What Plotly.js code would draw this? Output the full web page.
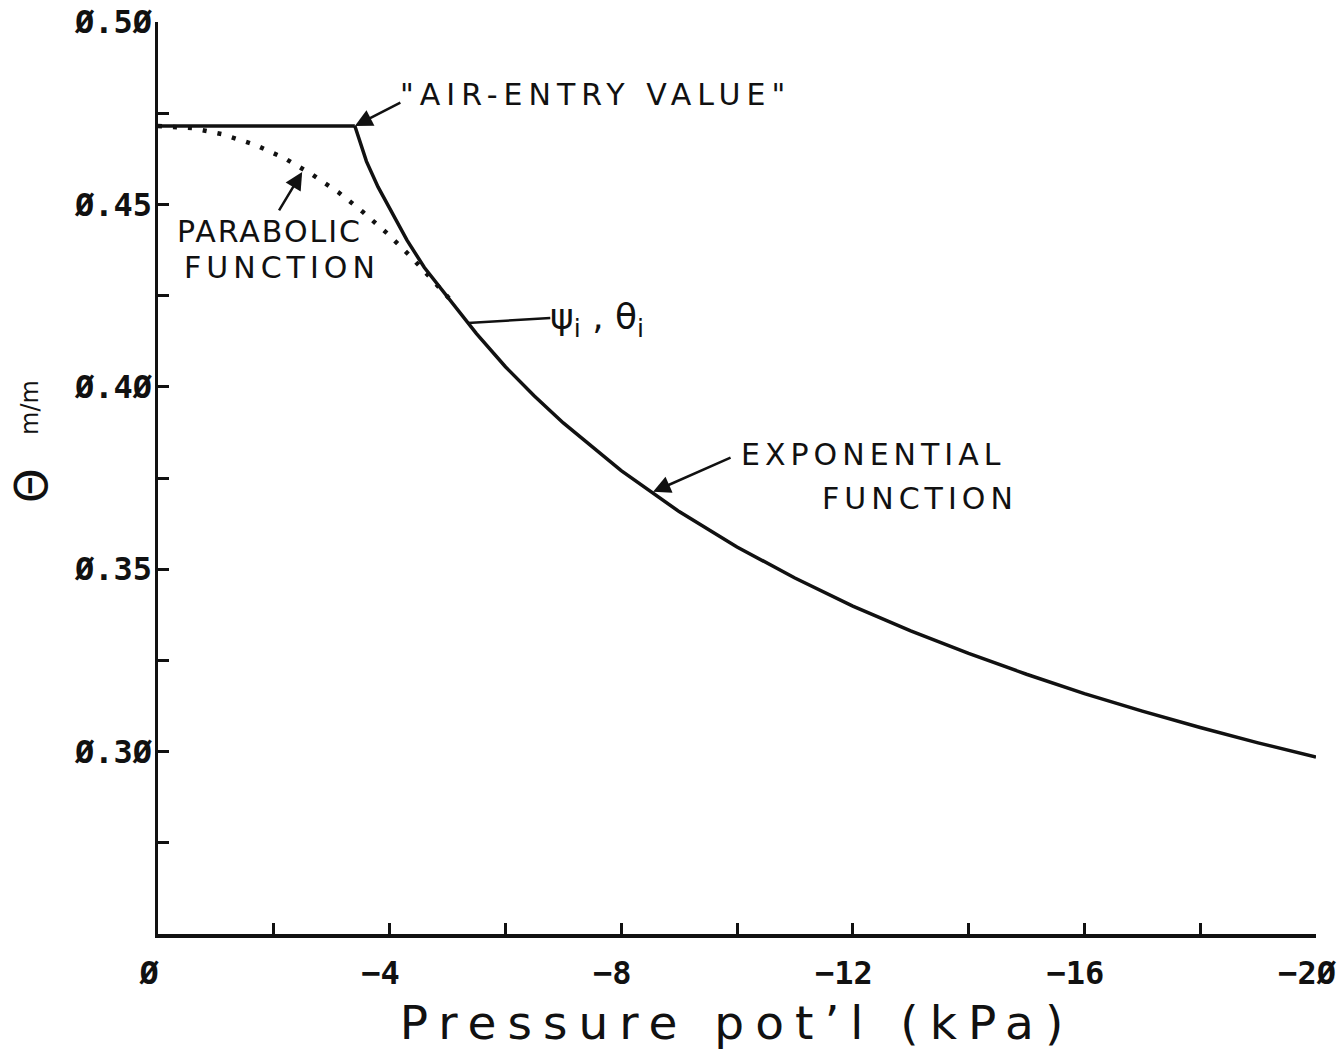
<!DOCTYPE html>
<html>
<head>
<meta charset="utf-8">
<script src="https://cdn.plot.ly/plotly-3.0.1.min.js"></script>
<style>html,body{margin:0;padding:0;background:#fff;}#chart{width:1343px;height:1064px;}</style>
</head>
<body>
<div id="chart"></div>
<script>
// Pressure potential (kPa) and volumetric water content (m/m)
const pressureFlat = [0, -3.4];
const thetaFlat = [0.4715, 0.4715];

const pressureExp = [-3.4, -3.6, -3.8, -4.0, -4.3, -4.6, -5.0, -5.5, -6.0, -6.5, -7.0, -8.0, -9.0, -10.0, -11.0, -12.0, -13.0, -14.0, -15.0, -16.0, -17.0, -18.0, -19.0, -20.0];
const thetaExp = [0.4715, 0.4618, 0.4548, 0.4488, 0.4402, 0.4327, 0.4245, 0.4146, 0.4055, 0.3975, 0.3901, 0.3770, 0.3658, 0.3561, 0.3476, 0.3399, 0.3331, 0.3269, 0.3212, 0.3159, 0.3111, 0.3066, 0.3024, 0.2985];

const pressurePara = [0, -0.6, -1.12, -1.68, -2.18, -2.66, -3.11, -3.54, -3.97, -4.37, -4.75, -5.04];
const thetaPara = [0.4715, 0.4709, 0.4692, 0.4663, 0.4627, 0.4582, 0.4534, 0.4479, 0.4419, 0.4356, 0.4291, 0.4240];

const xTickVals = [0, -2, -4, -6, -8, -10, -12, -14, -16, -18, -20];
const xTickText = ['Ø', '', '−4', '', '−8', '', '−12', '', '−16', '', '−2Ø'];
const yTickVals = [0.275, 0.30, 0.325, 0.35, 0.375, 0.40, 0.425, 0.45, 0.475, 0.50];
const yTickText = ['', 'Ø.3Ø', '', 'Ø.35', '', 'Ø.4Ø', '', 'Ø.45', '', 'Ø.5Ø'];
const yTitleSymbol = 'Θ';
const yTitleUnit = 'm/m';
const xTitle = 'Pressure pot’l (kPa)';

// annotation anchor points
const airEntryPoint = [-3.4, 0.4715];
const parabolicPoint = [-2.49, 0.4589];
const inflectionPoint = [-5.35, 0.4175];
const exponentialPoint = [-8.55, 0.3712];

const black = '#111';
const labelFont = {family: 'DejaVu Sans, sans-serif', size: 30, color: black};
const spaced = (t, s) => "<span style='letter-spacing:" + s + "px'>" + t + "</span>";

const traces = [
  {x: pressureFlat, y: thetaFlat, mode: 'lines', line: {color: black, width: 3.5}, hoverinfo: 'skip'},
  {x: pressureExp, y: thetaExp, mode: 'lines', line: {color: black, width: 3.5}, hoverinfo: 'skip'},
  {x: pressurePara, y: thetaPara, mode: 'lines', line: {color: black, width: 4.5, dash: '4px,11px'}, hoverinfo: 'skip'}
];

const arrowBase = {xref: 'x', yref: 'y', axref: 'pixel', ayref: 'pixel', text: '', showarrow: true,
  arrowcolor: black, arrowwidth: 2.5, arrowsize: 1.4, standoff: 0, startstandoff: 0};

const annotations = [
  Object.assign({}, arrowBase, {x: airEntryPoint[0], y: airEntryPoint[1], ax: 47, ay: -24, arrowhead: 2}),
  Object.assign({}, arrowBase, {x: parabolicPoint[0], y: parabolicPoint[1], ax: -24, ay: 40, arrowhead: 2}),
  Object.assign({}, arrowBase, {x: inflectionPoint[0], y: inflectionPoint[1], ax: 84, ay: -5, arrowhead: 0}),
  Object.assign({}, arrowBase, {x: exponentialPoint[0], y: exponentialPoint[1], ax: 79, ay: -35, arrowhead: 2}),
  {xref: 'x', yref: 'y', x: -4.15, y: 0.4800, xanchor: 'left', yanchor: 'middle', showarrow: false,
   text: spaced('"AIR-ENTRY VALUE"', 6), font: labelFont},
  {xref: 'x', yref: 'y', x: -1.93, y: 0.4425, xanchor: 'center', yanchor: 'middle', showarrow: false,
   text: spaced('PARABOLIC', 2), font: labelFont},
  {xref: 'x', yref: 'y', x: -2.14, y: 0.4326, xanchor: 'center', yanchor: 'middle', showarrow: false,
   text: spaced('FUNCTION', 5), font: labelFont},
  {xref: 'x', yref: 'y', x: -7.58, y: 0.4184, xanchor: 'center', yanchor: 'middle', showarrow: false,
   text: 'ψ<sub>i</sub> , θ<sub>i</sub>', font: {family: 'DejaVu Sans, sans-serif', size: 36, color: black}},
  {xref: 'x', yref: 'y', x: -12.35, y: 0.3814, xanchor: 'center', yanchor: 'middle', showarrow: false,
   text: spaced('EXPONENTIAL', 5), font: labelFont},
  {xref: 'x', yref: 'y', x: -13.16, y: 0.3693, xanchor: 'center', yanchor: 'middle', showarrow: false,
   text: spaced('FUNCTION', 5), font: labelFont},
  // y-axis title (Θ with unit m/m), rotated like the original
  {xref: 'paper', yref: 'paper', x: -0.1097, y: 0.4923, xanchor: 'center', yanchor: 'middle', showarrow: false,
   textangle: -90, text: yTitleSymbol, font: {family: 'DejaVu Sans, sans-serif', size: 44, color: black}},
  {xref: 'paper', yref: 'paper', x: -0.1105, y: 0.5768, xanchor: 'center', yanchor: 'middle', showarrow: false,
   textangle: -90, text: yTitleUnit, font: {family: 'DejaVu Sans, sans-serif', size: 24, color: black}}
];

const tickFont = {family: 'DejaVu Sans Mono, monospace', size: 32, color: black, weight: 'bold'};

const layout = {
  width: 1343, height: 1064,
  margin: {l: 158, r: 27, t: 22, b: 130},
  paper_bgcolor: '#fff', plot_bgcolor: '#fff',
  showlegend: false,
  xaxis: {
    range: [0, -20], showgrid: false, zeroline: false,
    showline: true, linecolor: black, linewidth: 3.5,
    ticks: 'inside', ticklen: 11, tickwidth: 3, tickcolor: black,
    tickmode: 'array', tickvals: xTickVals, ticktext: xTickText,
    tickfont: tickFont, ticklabelstandoff: 8, ticklabelshift: 9, ticklabeloverflow: 'allow',
    title: {text: spaced(xTitle, 11), font: {family: 'DejaVu Sans, sans-serif', size: 47, color: black}, standoff: 16}
  },
  yaxis: {
    range: [0.25, 0.50], showgrid: false, zeroline: false,
    showline: true, linecolor: black, linewidth: 3.5,
    ticks: 'inside', ticklen: 11, tickwidth: 3, tickcolor: black,
    tickmode: 'array', tickvals: yTickVals, ticktext: yTickText,
    tickfont: tickFont, ticklabelstandoff: -4, ticklabeloverflow: 'allow'
  },
  annotations: annotations
};

Plotly.newPlot('chart', traces, layout, {staticPlot: true, displayModeBar: false});
</script>
</body>
</html>
